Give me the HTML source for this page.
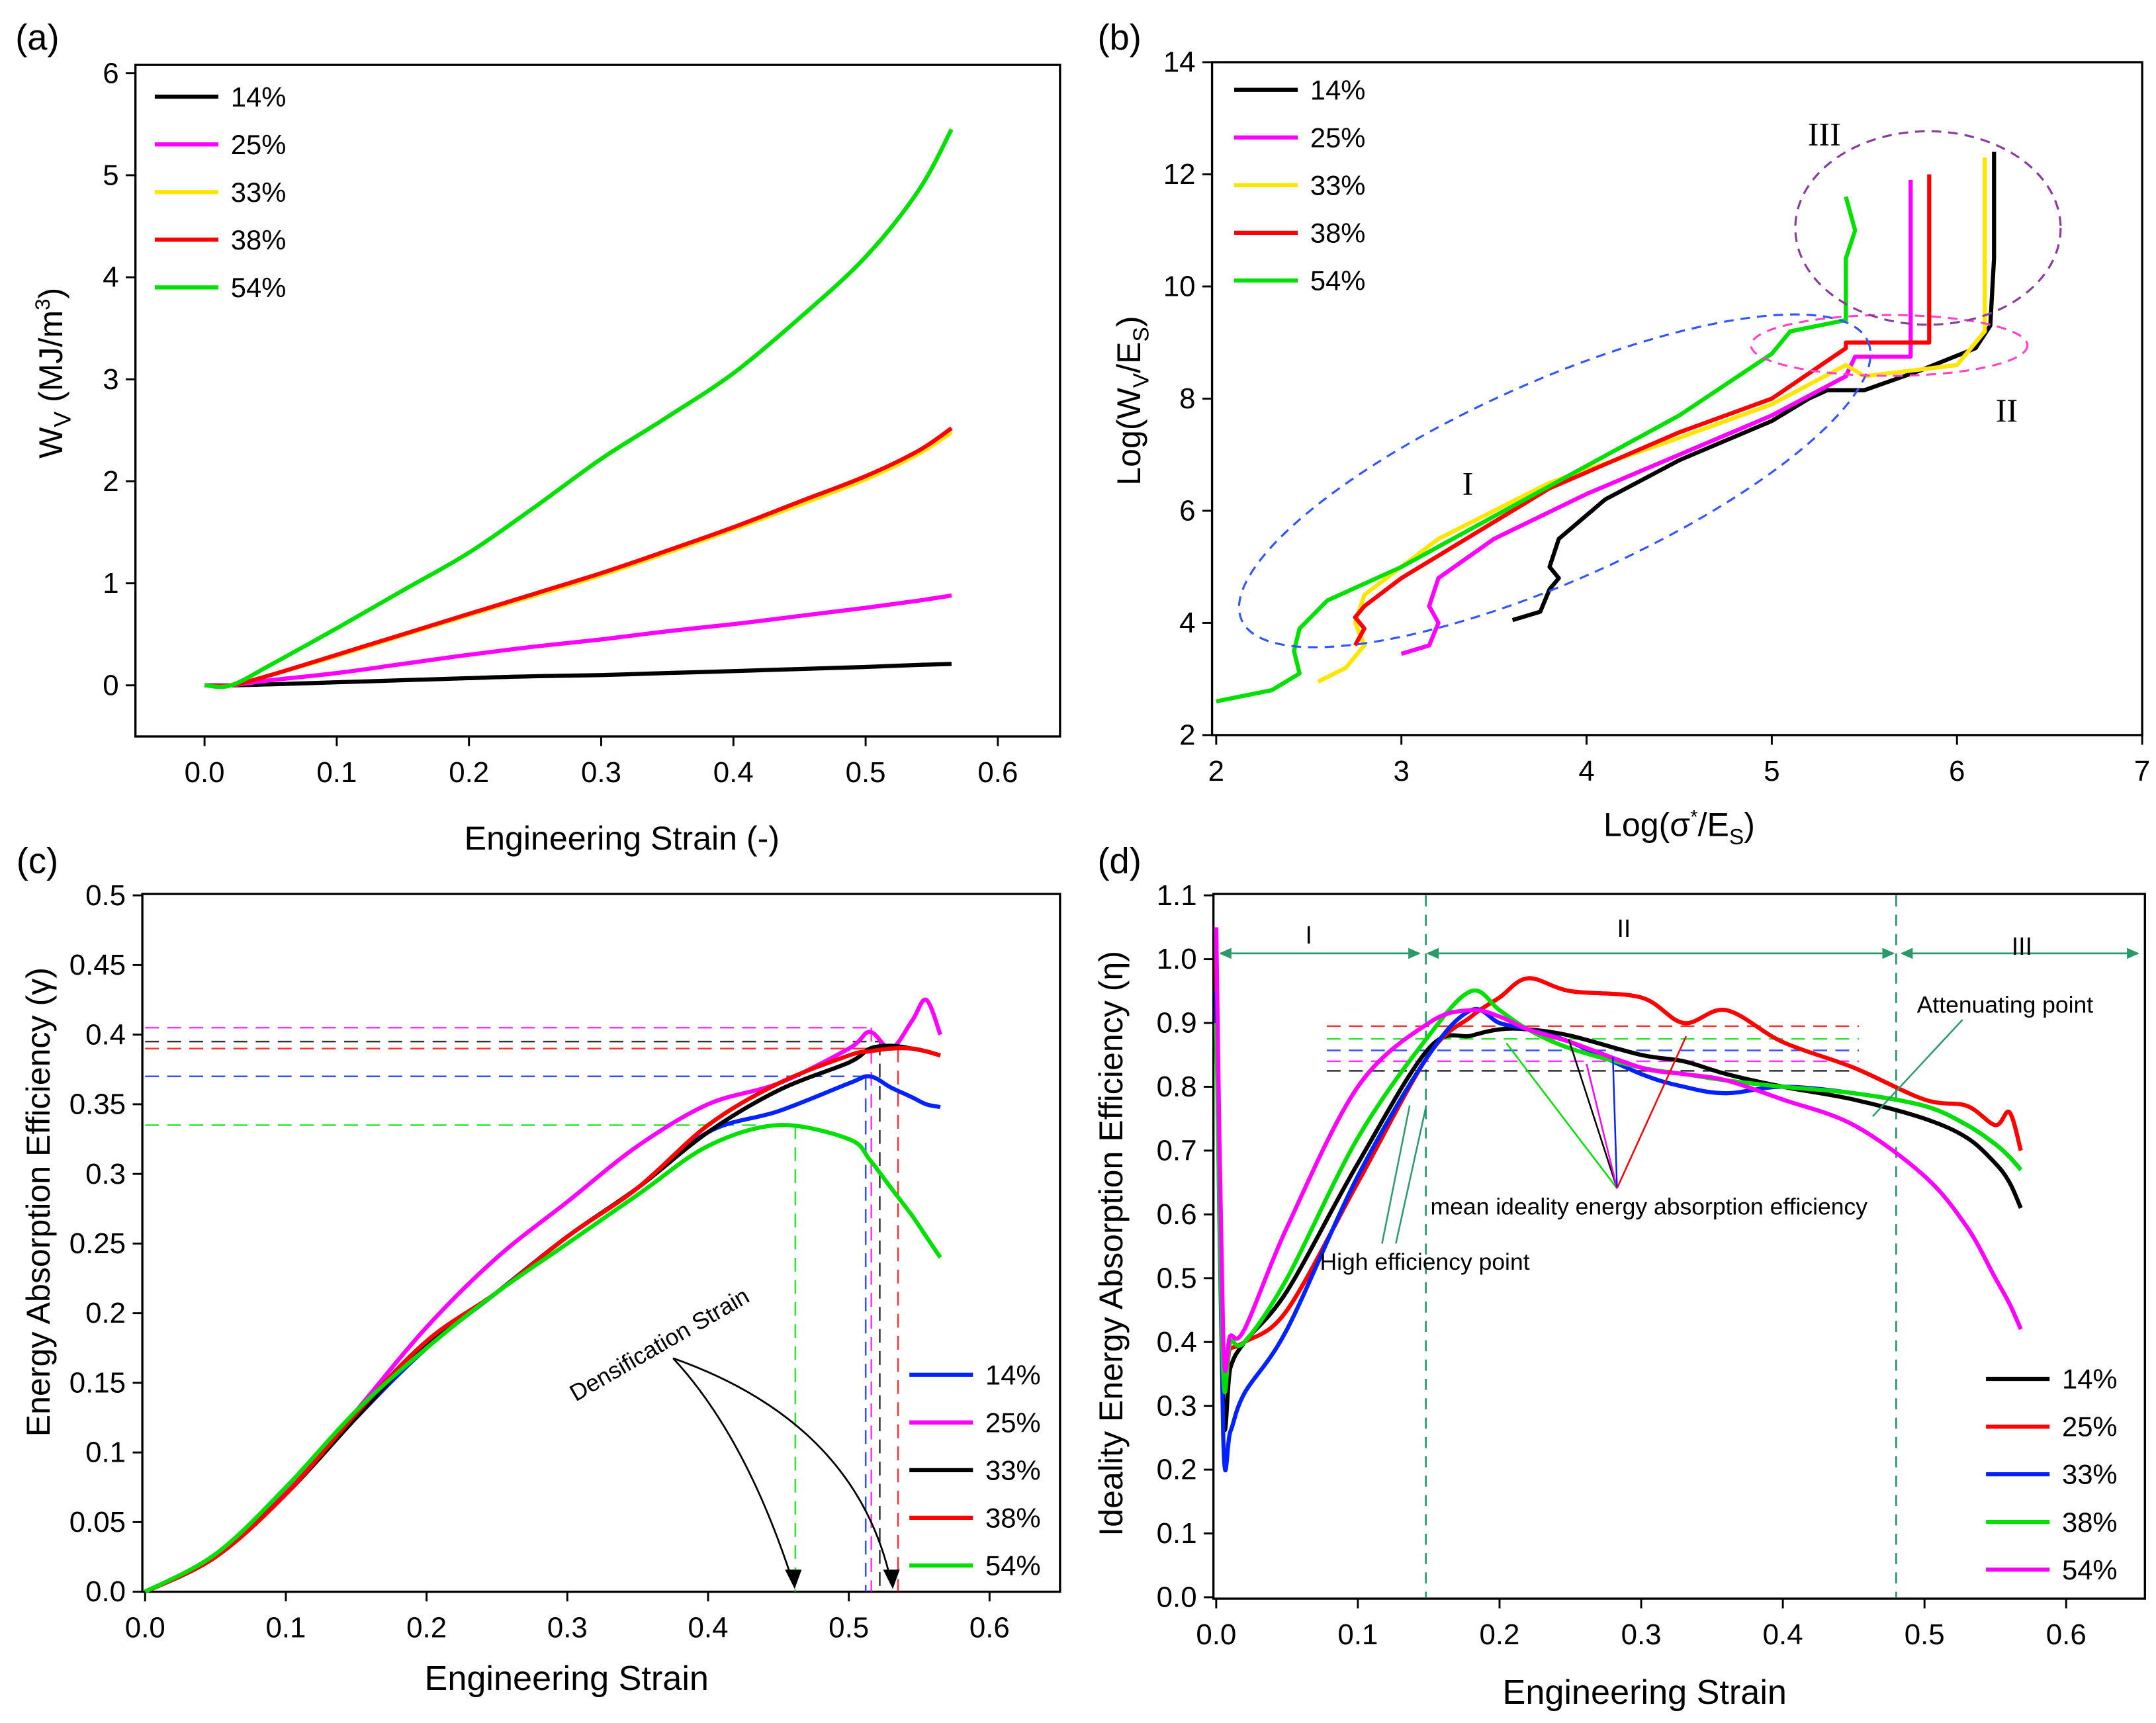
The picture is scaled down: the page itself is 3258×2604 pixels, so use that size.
<!DOCTYPE html>
<html><head><meta charset="utf-8">
<style>
html,body{margin:0;padding:0;background:#fff;}
svg{display:block;font-family:"Liberation Sans",Arial,sans-serif;}
</style></head>
<body>
<svg id="fig" width="3258" height="2604" viewBox="0 0 1560 1247" preserveAspectRatio="none" xmlns="http://www.w3.org/2000/svg"></svg>
<script>
// ---------- Panel (a) data ----------
const aStrain=[0,0.02,0.05,0.1,0.15,0.2,0.25,0.3,0.35,0.4,0.45,0.5,0.54,0.565];
const aGreen=[0,0,0.2,0.56,0.93,1.3,1.75,2.22,2.63,3.06,3.6,4.2,4.85,5.45];
const aRed=[0,0,0.1,0.3,0.5,0.7,0.9,1.1,1.32,1.55,1.8,2.05,2.3,2.52];
const aYellow=[0,0,0.1,0.29,0.49,0.69,0.88,1.08,1.3,1.53,1.77,2.02,2.27,2.48];
const aMagenta=[0,0,0.05,0.12,0.21,0.3,0.38,0.45,0.53,0.6,0.68,0.76,0.83,0.88];
const aBlack=[0,0,0.01,0.03,0.05,0.07,0.09,0.1,0.12,0.14,0.16,0.18,0.2,0.21];
// ---------- Panel (b) data ----------
const bBlackX=[3.6,3.75,3.8,3.85,3.8,3.85,4.1,4.5,5.0,5.2,5.3,5.5,5.8,6.1,6.18,6.2,6.2];
const bBlackY=[4.05,4.2,4.6,4.8,5.0,5.5,6.2,6.9,7.6,8.0,8.15,8.15,8.5,8.9,9.3,10.5,12.4];
const bMagX=[3.0,3.15,3.2,3.15,3.2,3.5,4.0,4.5,5.0,5.4,5.45,5.75,5.75];
const bMagY=[3.45,3.6,4.0,4.3,4.8,5.5,6.3,7.0,7.7,8.4,8.75,8.75,11.9];
const bYelX=[2.55,2.7,2.8,2.75,2.8,3.2,3.8,4.5,5.0,5.4,5.5,6.0,6.15,6.15];
const bYelY=[2.95,3.2,3.6,4.0,4.5,5.5,6.5,7.3,7.9,8.6,8.4,8.6,9.2,12.3];
const bRedX=[2.75,2.8,2.75,2.8,3.0,3.4,3.8,4.5,5.0,5.4,5.4,5.85,5.85];
const bRedY=[3.6,3.9,4.1,4.3,4.8,5.6,6.4,7.4,8.0,8.9,9.0,9.0,12.0];
const bGreX=[2.0,2.3,2.45,2.42,2.45,2.6,3.0,3.5,4.0,4.5,5.0,5.1,5.4,5.4,5.45,5.4];
const bGreY=[2.6,2.8,3.1,3.5,3.9,4.4,5.0,5.9,6.8,7.7,8.8,9.2,9.4,10.5,11.0,11.6];
// ---------- Panel (c) data ----------
const cStrain=[0,0.05,0.1,0.15,0.2,0.25,0.3,0.35,0.4,0.45,0.5,0.515,0.53,0.545,0.555,0.565];
const cBlue=[0,0.025,0.07,0.125,0.175,0.215,0.255,0.29,0.33,0.345,0.365,0.37,0.362,0.355,0.35,0.348];
const cMagenta=[0,0.025,0.072,0.13,0.19,0.24,0.28,0.32,0.35,0.365,0.39,0.402,0.39,0.41,0.425,0.40];
const cBlack=[0,0.025,0.07,0.125,0.178,0.215,0.255,0.29,0.33,0.36,0.38,0.39,0.392,0.39,0.388,0.385];
const cRed=[0,0.025,0.07,0.128,0.18,0.215,0.255,0.29,0.335,0.365,0.385,0.388,0.39,0.39,0.388,0.385];
const cGreen=[0,0.027,0.075,0.13,0.175,0.215,0.25,0.285,0.32,0.335,0.325,0.31,0.29,0.27,0.255,0.24];
const cPeakY=[0.37,0.405,0.395,0.39,0.335];
const cPeakX=[0.512,0.516,0.522,0.535,0.462];
// ---------- Panel (d) data ----------
const dStrain=[0,0.005,0.01,0.02,0.05,0.1,0.15,0.18,0.2,0.22,0.25,0.3,0.33,0.36,0.4,0.45,0.5,0.53,0.55,0.56,0.568];
const dBlack=[1.0,0.3,0.36,0.4,0.48,0.68,0.86,0.88,0.89,0.89,0.88,0.85,0.84,0.82,0.8,0.78,0.75,0.72,0.68,0.65,0.61];
const dRed=[1.0,0.38,0.39,0.4,0.45,0.65,0.85,0.91,0.94,0.97,0.95,0.94,0.9,0.92,0.87,0.83,0.78,0.77,0.74,0.76,0.7];
const dBlue=[0.95,0.25,0.26,0.32,0.42,0.66,0.85,0.92,0.9,0.89,0.87,0.82,0.8,0.79,0.8,0.79,0.77,0.74,0.71,0.69,0.67];
const dGreen=[0.9,0.35,0.4,0.4,0.5,0.72,0.88,0.95,0.92,0.89,0.86,0.83,0.82,0.81,0.8,0.79,0.77,0.74,0.71,0.69,0.67];
const dMagenta=[1.05,0.4,0.41,0.42,0.58,0.8,0.9,0.92,0.91,0.89,0.87,0.83,0.82,0.81,0.78,0.74,0.66,0.58,0.5,0.46,0.42];
const dMeans=[0.895,0.875,0.857,0.84,0.825];

const NS="http://www.w3.org/2000/svg";
const svg=document.getElementById('fig');
function el(tag,attrs,parent,text){const e=document.createElementNS(NS,tag);for(const k in attrs)e.setAttribute(k,attrs[k]);if(text!==undefined)e.textContent=text;(parent||svg).appendChild(e);return e;}
function lin(d0,d1,p0,p1){return v=>p0+(v-d0)*(p1-p0)/(d1-d0);}
function pts(xs,ys,sx,sy){return xs.map((x,i)=>sx(x).toFixed(1)+','+sy(ys[i]).toFixed(1)).join(' ');}
function smooth(xs,ys,sx,sy){const P=xs.map((x,i)=>[sx(x),sy(ys[i])]);let d='M'+P[0][0].toFixed(1)+','+P[0][1].toFixed(1);
  for(let i=0;i<P.length-1;i++){const p0=P[Math.max(0,i-1)],p1=P[i],p2=P[i+1],p3=P[Math.min(P.length-1,i+2)];
    const c1=[p1[0]+(p2[0]-p0[0])/6,p1[1]+(p2[1]-p0[1])/6],c2=[p2[0]-(p3[0]-p1[0])/6,p2[1]-(p3[1]-p1[1])/6];
    d+=` C${c1[0].toFixed(1)},${c1[1].toFixed(1)} ${c2[0].toFixed(1)},${c2[1].toFixed(1)} ${p2[0].toFixed(1)},${p2[1].toFixed(1)}`;}
  return d;}

function axes(g,box,xt,yt,sx,sy,xfmt,yfmt){
  const fr=el('rect',{x:box.l,y:box.t,width:box.r-box.l,height:box.b-box.t,fill:'none',stroke:'#000','stroke-width':1.6},g);
  
  xt.forEach(v=>{const x=sx(v);el('line',{x1:x,y1:box.b,x2:x,y2:box.b+7,stroke:'#000','stroke-width':1.4},g);
    const t=el('text',{x:x,y:box.b+33,'text-anchor':'middle','font-size':21},g,xfmt(v));
    });
  yt.forEach(v=>{const y=sy(v);el('line',{x1:box.l-7,y1:y,x2:box.l,y2:y,stroke:'#000','stroke-width':1.4},g);
    const t=el('text',{x:box.l-12,y:y+7,'text-anchor':'end','font-size':21},g,yfmt(v));
    });
}
function series(g,xs,ys,sx,sy,col,name){const p=el('polyline',{points:pts(xs,ys,sx,sy),fill:'none',stroke:col,'stroke-width':3,'stroke-linejoin':'round'},g);
  }
function sseries(g,xs,ys,sx,sy,col,name){const p=el('path',{d:smooth(xs,ys,sx,sy),fill:'none',stroke:col,'stroke-width':3,'stroke-linejoin':'round'},g);
  }
function legend(g,x,y0,dy,labels,cols){labels.forEach((lb,i)=>{const y=y0+i*dy;
  const ln=el('line',{x1:x,y1:y,x2:x+46,y2:y,stroke:cols[i],'stroke-width':3},g);
  
  const t=el('text',{x:x+55,y:y+7,'font-size':20},g,lb);
  });}
function label(g,txt,x,y,size,name,rot){const a={x:x,y:y,'font-size':size,'text-anchor':'middle'};if(rot)a.transform='rotate('+rot+' '+x+' '+y+')';
  const t=el('text',a,g);t.innerHTML=txt;return t;}
const f1=v=>v.toFixed(1), f0=v=>String(v);
const LBL=['14%','25%','33%','38%','54%'];

// ===== Panel a =====
{const g=el('g',{});
 const box={l:98,r:767,t:47,b:533};const sx=lin(0,0.6,148,722), sy=lin(0,6,496,53);
 axes(g,box,[0,0.1,0.2,0.3,0.4,0.5,0.6],[0,1,2,3,4,5,6],sx,sy,f1,f0);
 sseries(g,aStrain,aBlack,sx,sy,'#000','series-14');
 sseries(g,aStrain,aMagenta,sx,sy,'#ff00ff','series-25');
 sseries(g,aStrain,aYellow,sx,sy,'#ffe600','series-33');
 sseries(g,aStrain,aRed,sx,sy,'#ff0000','series-38');
 sseries(g,aStrain,aGreen,sx,sy,'#00e000','series-54');
 legend(g,112,70,34.5,LBL,['#000','#ff00ff','#ffe600','#ff0000','#00e000']);
 label(g,'(a)',27,36,26,'panel-label-a');
 label(g,'Engineering Strain (-)',450,615,24,'x-axis-title');
 label(g,'W<tspan font-size="17" dy="6">V</tspan><tspan dy="-6"> (MJ/m</tspan><tspan font-size="15" dy="-9">3</tspan><tspan dy="9">)</tspan>',45,270,24,'y-axis-title',-90);
}
// ===== Panel b =====
{const g=el('g',{});
 const box={l:877,r:1550,t:45,b:532};const sx=lin(2,7,880,1550), sy=lin(2,14,532,45);
 axes(g,box,[2,3,4,5,6,7],[2,4,6,8,10,12,14],sx,sy,f0,f0);
 series(g,bBlackX,bBlackY,sx,sy,'#000','series-14');
 series(g,bMagX,bMagY,sx,sy,'#ff00ff','series-25');
 series(g,bYelX,bYelY,sx,sy,'#ffe600','series-33');
 series(g,bRedX,bRedY,sx,sy,'#ff0000','series-38');
 series(g,bGreX,bGreY,sx,sy,'#00e000','series-54');
 const e1=el('ellipse',{cx:1125,cy:348,rx:248,ry:72,fill:'none',stroke:'#3355ff','stroke-width':1.5,'stroke-dasharray':'7,5',transform:'rotate(-24 1125 348)'},g);
 
 const e2=el('ellipse',{cx:1367,cy:250,rx:100,ry:22,fill:'none',stroke:'#ff44cc','stroke-width':1.5,'stroke-dasharray':'7,5'},g);
 
 const e3=el('ellipse',{cx:1395,cy:165,rx:96,ry:70,fill:'none',stroke:'#8a3a9a','stroke-width':1.5,'stroke-dasharray':'7,5'},g);
 
 [['I',1062,358],['II',1452,305],['III',1320,105]].forEach(a=>{const t=label(g,a[0],a[1],a[2],24,'region-label');t.setAttribute('font-family','"Liberation Serif",serif');});
 legend(g,893,65,34.5,LBL,['#000','#ff00ff','#ffe600','#ff0000','#00e000']);
 label(g,'(b)',810,36,26,'panel-label-b');
 label(g,'Log(σ<tspan font-size="14" dy="-9">*</tspan><tspan dy="9">/E</tspan><tspan font-size="16" dy="6">S</tspan><tspan dy="-6">)</tspan>',1215,605,24,'x-axis-title');
 label(g,'Log(W<tspan font-size="16" dy="6">V</tspan><tspan dy="-6">/E</tspan><tspan font-size="16" dy="6">S</tspan><tspan dy="-6">)</tspan>',825,290,24,'y-axis-title',-90);
}
// ===== Panel c =====
{const g=el('g',{});
 const box={l:103,r:767,t:647,b:1152};const sx=lin(0,0.6,105,716), sy=lin(0,0.5,1152,648);
 const yt=[];for(let i=0;i<=10;i++)yt.push(i*0.05);
 axes(g,box,[0,0.1,0.2,0.3,0.4,0.5,0.6],yt,sx,sy,f1,v=>{const r=Math.round(v*100)/100;return r===0?'0.0':(Math.round(r*100)%10===0?r.toFixed(1):String(r));});
 const cols=['#0022ff','#ff00ff','#000','#ff0000','#00e000'];
 cPeakY.forEach((py,i)=>{const h=el('line',{x1:105,y1:sy(py),x2:sx(cPeakX[i]),y2:sy(py),stroke:cols[i],'stroke-width':1.2,'stroke-dasharray':'10,6',opacity:0.8},g);
   
   const v=el('line',{x1:sx(cPeakX[i]),y1:sy(py),x2:sx(cPeakX[i]),y2:1152,stroke:cols[i],'stroke-width':1.2,'stroke-dasharray':'10,6',opacity:0.8},g);
   });
 sseries(g,cStrain,cBlue,sx,sy,cols[0],'series-14');
 sseries(g,cStrain,cMagenta,sx,sy,cols[1],'series-25');
 sseries(g,cStrain,cBlack,sx,sy,cols[2],'series-33');
 sseries(g,cStrain,cRed,sx,sy,cols[3],'series-38');
 sseries(g,cStrain,cGreen,sx,sy,cols[4],'series-54');
 legend(g,658,995,34.5,LBL,cols);
 label(g,'Densification Strain',480,978,17,'annotation-densification',-30);
 el('path',{d:'M487,983 Q540,1040 574,1146',fill:'none',stroke:'#000','stroke-width':1.3},g);
 el('path',{d:'M487,983 Q620,1030 645,1146',fill:'none',stroke:'#000','stroke-width':1.3},g);
 el('path',{d:'M568,1136 L575,1150 L580,1136Z',fill:'#000'},g);
 el('path',{d:'M639,1136 L646,1150 L651,1136Z',fill:'#000'},g);
 label(g,'(c)',27,632,26,'panel-label-c');
 label(g,'Engineering Strain',410,1223,25,'x-axis-title');
 label(g,'Energy Absorption Efficiency (γ)',36,870,24,'y-axis-title',-90);
}
// ===== Panel d =====
{const g=el('g',{});
 const box={l:878,r:1552,t:647,b:1157};const sx=lin(0,0.6,880,1495), sy=lin(0,1.1,1156,648);
 const yt=[];for(let i=0;i<=11;i++)yt.push(i*0.1);
 axes(g,box,[0,0.1,0.2,0.3,0.4,0.5,0.6],yt,sx,sy,f1,f1);
 [0.148,0.48].forEach(v=>{const l=el('line',{x1:sx(v),y1:648,x2:sx(v),y2:1156,stroke:'#2a9a6a','stroke-width':1.3,'stroke-dasharray':'8,6'},g);
   });
 [[880,1030],[1030,1373],[1373,1550]].forEach(r=>{el('line',{x1:r[0]+3,y1:690,x2:r[1]-3,y2:690,stroke:'#2a9a6a','stroke-width':1.3},g);
   el('path',{d:`M${r[0]+2},690 l9,-4 v8z M${r[1]-2},690 l-9,-4 v8z`,fill:'#2a9a6a'},g);});
 [['I',947,683],['II',1175,678],['III',1463,691]].forEach(a=>label(g,a[0],a[1],a[2],18,'region-label'));
 const cols=['#ff0000','#00e000','#0022ff','#ff00ff','#000'];
 dMeans.forEach((m,i)=>{const l=el('line',{x1:960,y1:sy(m),x2:1345,y2:sy(m),stroke:cols[i],'stroke-width':1.2,'stroke-dasharray':'10,6',opacity:0.8},g);
   });
 sseries(g,dStrain,dBlack,sx,sy,'#000','series-14');
 sseries(g,dStrain,dRed,sx,sy,'#ff0000','series-25');
 sseries(g,dStrain,dBlue,sx,sy,'#0022ff','series-33');
 sseries(g,dStrain,dGreen,sx,sy,'#00e000','series-38');
 sseries(g,dStrain,dMagenta,sx,sy,'#ff00ff','series-54');
 [[1090,755,'#00e000'],[1135,752,'#000'],[1148,770,'#ff00ff'],[1167,765,'#0022ff'],[1220,750,'#ff0000']].forEach(a=>
   el('line',{x1:1170,y1:860,x2:a[0],y2:a[1],stroke:a[2],'stroke-width':1.2},g));
 el('line',{x1:1355,y1:808,x2:1420,y2:738,stroke:'#2a9a6a','stroke-width':1.2},g);
 el('line',{x1:1020,y1:800,x2:1000,y2:900,stroke:'#2a9a6a','stroke-width':1.2},g);
 el('line',{x1:1032,y1:800,x2:1010,y2:900,stroke:'#2a9a6a','stroke-width':1.2},g);
 const t1=el('text',{x:1387,y:733,'font-size':17},g,'Attenuating point');
 const t2=el('text',{x:1035,y:879,'font-size':17},g,'mean ideality energy absorption efficiency');
 const t3=el('text',{x:955,y:919,'font-size':17},g,'High efficiency point');
 legend(g,1437,998,34.5,LBL,['#000','#ff0000','#0022ff','#00e000','#ff00ff']);
 label(g,'(d)',810,632,26,'panel-label-d');
 label(g,'Engineering Strain',1190,1233,25,'x-axis-title');
 label(g,'Ideality Energy Absorption Efficiency (η)',812,900,24,'y-axis-title',-90);
}
</script>
</body></html>
